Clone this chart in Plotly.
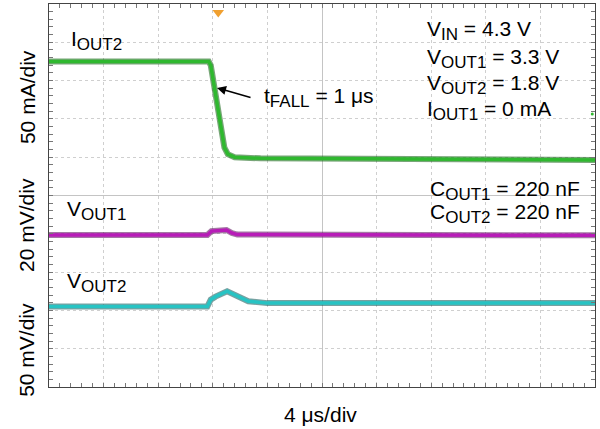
import plotly.graph_objects as go

# Tempo em µs (4 µs/div, centro do ecrã = 0) e amplitude em divisões do ecrã
iout2_t = [-20, -8.3, -8.15, -7.15, -6.9, -6.4, -4.5, 20]
iout2_div = [3.50, 3.50, 3.40, 1.25, 1.08, 1.00, 0.97, 0.93]

vout1_t = [-20, -8.4, -8.1, -7.0, -6.6, -6.2, 20]
vout1_div = [-1.03, -1.03, -0.93, -0.90, -0.98, -1.02, -1.04]

vout2_t = [-20, -8.4, -8.15, -7.8, -6.95, -6.3, -5.4, -4.0, 20]
vout2_div = [-2.90, -2.90, -2.72, -2.64, -2.50, -2.60, -2.76, -2.81, -2.81]

canais = [
    ("IOUT2", iout2_t, iout2_div, "#2fb82f", "#0b5e0b"),
    ("VOUT1", vout1_t, vout1_div, "#b81cb8", "#5a0a5a"),
    ("VOUT2", vout2_t, vout2_div, "#27c3c3", "#0b5656"),
]

FONTE = "Liberation Sans, Arial, sans-serif"

fig = go.Figure()

# Cada canal: uma faixa escura por baixo (ruído) e a linha colorida por cima
for nome, t, v, cor, escura in canais:
    fig.add_trace(go.Scatter(x=t, y=v, mode="lines", line=dict(color=escura, width=6),
                             opacity=0.55, hoverinfo="skip", showlegend=False))
    fig.add_trace(go.Scatter(x=t, y=v, mode="lines", line=dict(color=cor, width=3.5),
                             name=nome, showlegend=False))

# Marcador de trigger (laranja, topo) e marcador de nível do canal verde (direita)
fig.add_trace(go.Scatter(x=[-7.6], y=[4.78], mode="markers",
                         marker=dict(symbol="triangle-down", size=10, color="#f0a030"),
                         showlegend=False, hoverinfo="skip"))
fig.add_trace(go.Scatter(x=[19.8], y=[2.13], mode="markers",
                         marker=dict(size=3, color="#2fb82f"),
                         showlegend=False, hoverinfo="skip"))

eixo_comum = dict(
    showticklabels=False, ticks="inside", ticklen=4, tickcolor="#777",
    showline=True, linecolor="#444", linewidth=1, mirror="allticks",
    showgrid=True, gridcolor="#cfcfcf", griddash="dot", gridwidth=1,
    zeroline=True, zerolinecolor="#c4c4c4", zerolinewidth=1,
    minor=dict(ticks="inside", ticklen=4, tickcolor="#777", showgrid=False),
    fixedrange=True,
)

fig.update_layout(
    width=600, height=429,
    margin=dict(l=49, r=5, t=4, b=42),
    paper_bgcolor="white", plot_bgcolor="white",
    font=dict(family=FONTE, size=21, color="black"),
    xaxis=dict(range=[-20, 20], dtick=4, minor_dtick=0.8, **eixo_comum),
    yaxis=dict(range=[-5, 5], dtick=1, minor_dtick=0.2, **eixo_comum),
)

# Marcas pequenas nos eixos centrais (dos dois lados)
for i, lado in enumerate(["inside", "outside"]):
    fig.update_layout(**{
        f"xaxis{i + 2}": dict(overlaying="x", anchor="free", position=0.5, range=[-20, 20],
                             showticklabels=False, showgrid=False, zeroline=False, showline=False,
                             ticks=lado, ticklen=3, tickcolor="#999", dtick=4,
                             minor=dict(ticks=lado, ticklen=3, tickcolor="#999", dtick=0.8)),
        f"yaxis{i + 2}": dict(overlaying="y", anchor="free", position=0.5, range=[-5, 5],
                             showticklabels=False, showgrid=False, zeroline=False, showline=False,
                             ticks=lado, ticklen=3, tickcolor="#999", dtick=1,
                             minor=dict(ticks=lado, ticklen=3, tickcolor="#999", dtick=0.2)),
    })


def sub(txt):
    return f"<sub><span style='font-size:17px'>{txt}</span></sub>"


rotulos = [
    ("I" + sub("OUT2"), -18.5, 4.06),
    ("V" + sub("OUT1"), -18.8, -0.40),
    ("V" + sub("OUT2"), -18.8, -2.28),
    ("t" + sub("FALL") + " = 1 μs", -4.4, 2.57),
    ("V" + sub("IN") + " = 4.3 V", 7.55, 4.30),
    ("V" + sub("OUT1") + " = 3.3 V", 7.55, 3.59),
    ("V" + sub("OUT2") + " = 1.8 V", 7.55, 2.89),
    ("I" + sub("OUT1") + " = 0 mA", 7.55, 2.21),
    ("C" + sub("OUT1") + " = 220 nF", 7.77, 0.14),
    ("C" + sub("OUT2") + " = 220 nF", 7.77, -0.46),
]
for texto, x, y in rotulos:
    fig.add_annotation(x=x, y=y, text=texto, showarrow=False,
                       xanchor="left", yanchor="middle", align="left")

# Seta do tempo de descida
fig.add_annotation(x=-7.69, y=2.81, ax=35, ay=10, text="", showarrow=True,
                   arrowhead=2, arrowsize=1.2, arrowwidth=1.5, arrowcolor="black", standoff=0)

# Escalas verticais por canal (texto rodado à esquerda)
for texto, yp in [("50 mA/div", 0.757), ("20 mV/div", 0.423), ("50 mV/div", 0.097)]:
    fig.add_annotation(xref="paper", yref="paper", x=-0.0403, y=yp, text=texto,
                       textangle=-90, showarrow=False, xanchor="center", yanchor="middle")

fig.add_annotation(xref="paper", yref="paper", x=0.498, y=-0.0705, text="4 μs/div",
                   showarrow=False, xanchor="center", yanchor="middle")

# Sem margem no corpo da página, para a figura ocupar a janela toda
fig.write_html("out.html", config={"displayModeBar": False},
               post_script="document.body.style.margin='0';")
